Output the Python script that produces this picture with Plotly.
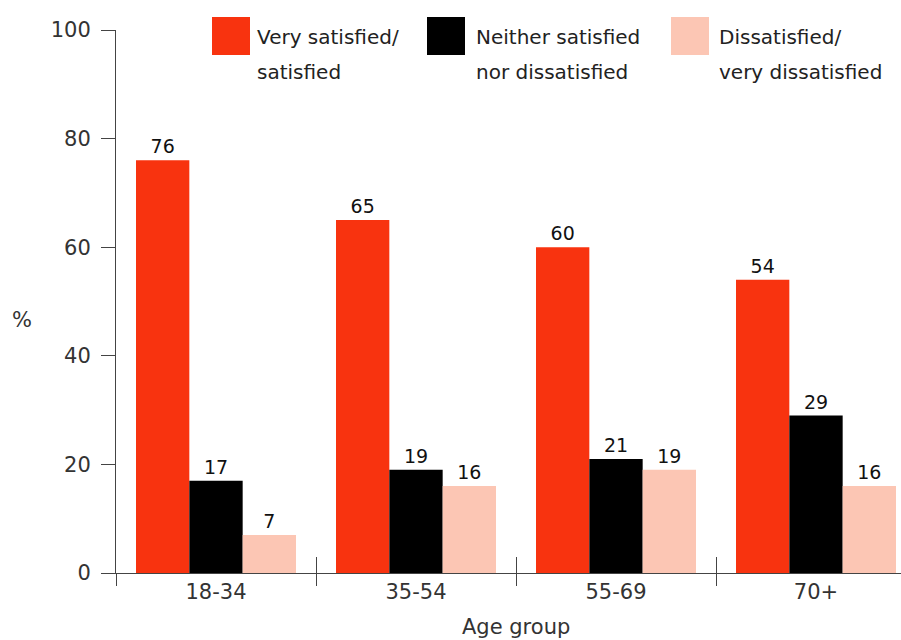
import plotly.graph_objects as go

# Satisfaction by age group (%)
age_groups = ["18-34", "35-54", "55-69", "70+"]
satisfied = [76, 65, 60, 54]
neither = [17, 19, 21, 29]
dissatisfied = [7, 16, 19, 16]
y_ticks = [0, 20, 40, 60, 80, 100]

legend_line1 = ["Very satisfied/", "Neither satisfied", "Dissatisfied/"]
legend_line2 = ["satisfied", "nor dissatisfied", "very dissatisfied"]
colors = ["#f8330f", "#000000", "#fcc6b4"]

FONT = "DejaVu Sans"
W, H = 901, 640
L, R, T, B = 116, 901, 30, 573


def px(x):
    return (x - L) / (R - L)


def py(y):
    return (B - y) / (B - T)


fig = go.Figure()
for name, vals, col in zip(legend_line1, [satisfied, neither, dissatisfied], colors):
    fig.add_trace(go.Bar(
        x=age_groups, y=vals, name=name,
        marker=dict(color=col, line=dict(width=0)),
        text=vals, textposition="outside",
        textfont=dict(family=FONT, size=19, color="#111111"),
        cliponaxis=False, showlegend=False,
    ))

# overlay axis carrying the upward half of the group-boundary ticks
fig.add_trace(go.Scatter(x=[], y=[], xaxis="x2", showlegend=False, hoverinfo="skip"))

fig.update_layout(
    width=W, height=H, autosize=False,
    margin=dict(l=L, r=W - R, t=T, b=H - B),
    paper_bgcolor="white", plot_bgcolor="white",
    barmode="group", bargap=0.2, bargroupgap=0,
    font=dict(family=FONT, size=21, color="#333333"),
    xaxis=dict(
        type="category", range=[-0.5, 3.425],
        showline=True, linecolor="#444444", linewidth=1,
        ticks="outside", tickson="boundaries", ticklen=12, tickcolor="#444444",
        tickfont=dict(family=FONT, size=21, color="#333333"),
        showgrid=False, zeroline=False,
    ),
    xaxis2=dict(
        overlaying="x", anchor="y", side="bottom", type="linear",
        range=[-0.5, 3.425], tickvals=[-0.5, 0.5, 1.5, 2.5],
        ticks="inside", ticklen=16, tickcolor="#444444",
        showticklabels=False, showline=False, showgrid=False, zeroline=False,
    ),
    yaxis=dict(
        range=[0, 100], tickvals=y_ticks,
        showline=True, linecolor="#444444", linewidth=1,
        ticks="outside", ticklen=14, tickcolor="#444444",
        ticklabelstandoff=6,
        tickfont=dict(family=FONT, size=21, color="#333333"),
        showgrid=False, zeroline=False,
    ),
)

annotations = [
    dict(text="%", x=px(22), y=py(320), xref="paper", yref="paper",
         showarrow=False, xanchor="center", yanchor="middle",
         font=dict(family=FONT, size=21, color="#333333")),
    dict(text="Age group", x=px(516), y=py(627), xref="paper", yref="paper",
         showarrow=False, xanchor="center", yanchor="middle",
         font=dict(family=FONT, size=21, color="#333333")),
]

# legend: swatch plus two text lines per series
swatch_x = [212, 427, 671]
text_x = [255, 474, 717]
shapes = []
for sx, tx, col, l1, l2 in zip(swatch_x, text_x, colors, legend_line1, legend_line2):
    shapes.append(dict(type="rect", xref="paper", yref="paper",
                       x0=px(sx), x1=px(sx + 38), y0=py(55), y1=py(17),
                       fillcolor=col, line=dict(width=0)))
    for txt, ty in ((l1, 37), (l2, 72)):
        annotations.append(dict(text=txt, x=px(tx), y=py(ty), xref="paper", yref="paper",
                                showarrow=False, xanchor="left", yanchor="middle",
                                font=dict(family=FONT, size=20, color="#222222")))

fig.update_layout(annotations=annotations, shapes=shapes)
fig.write_html("out.html")
